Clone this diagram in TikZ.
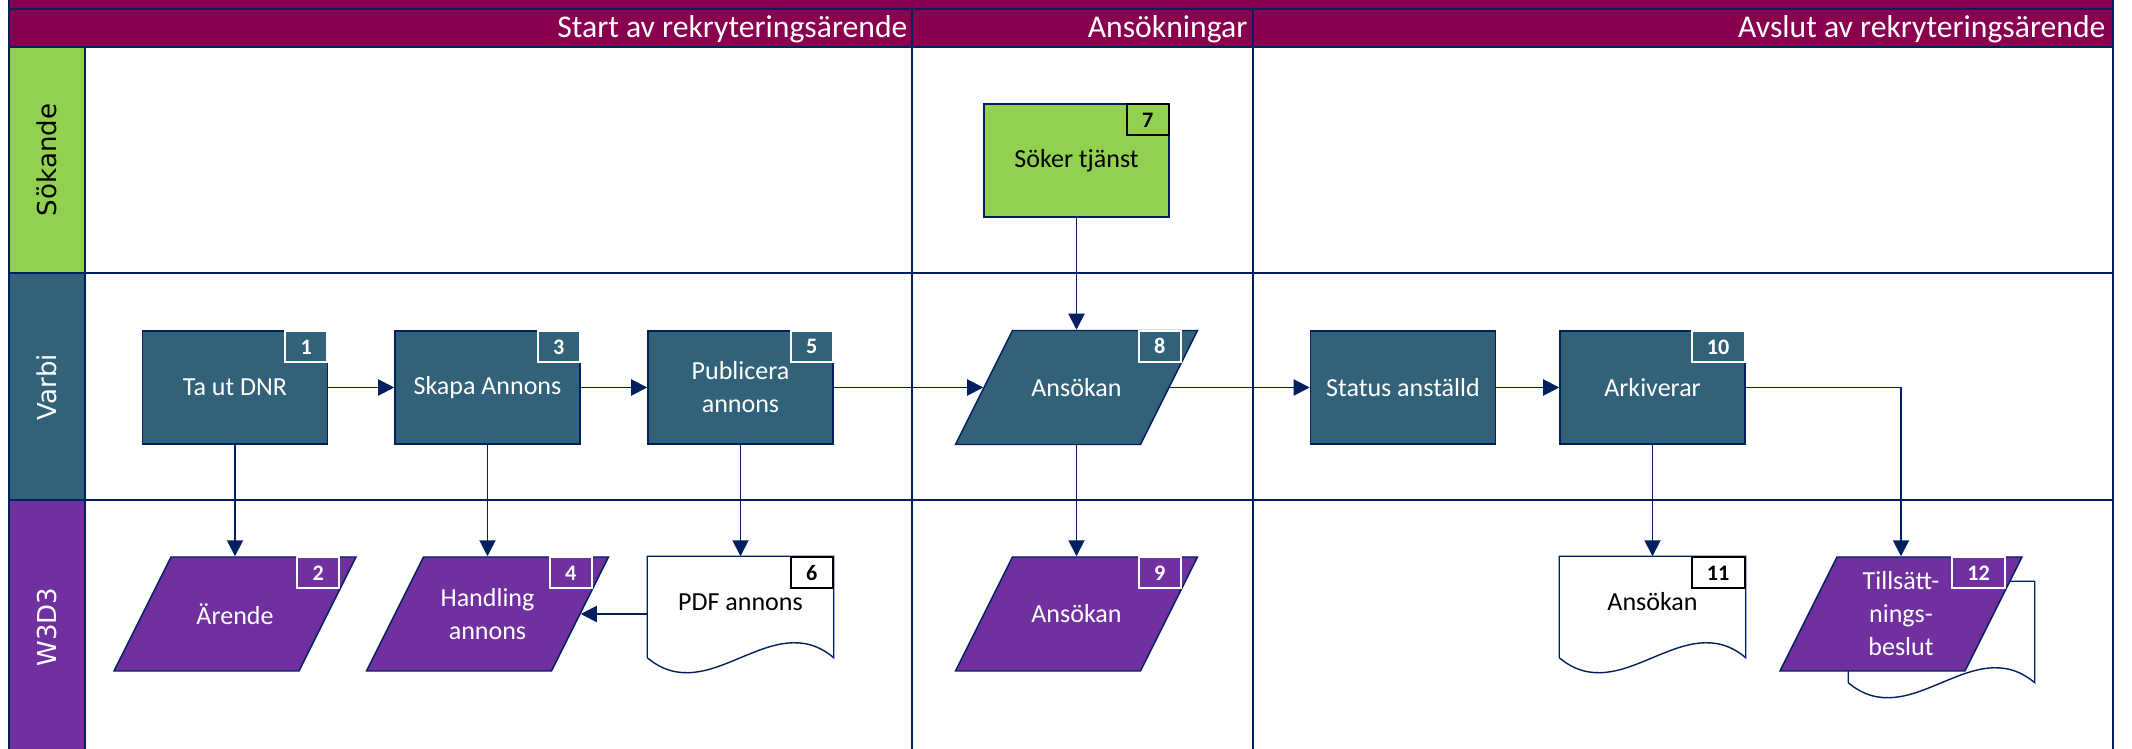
\documentclass[tikz,border=0pt]{standalone}
\usepackage{fontspec}
\setmainfont{Carlito}
\newfontfamily\lanefont{DejaVu Sans}
\usetikzlibrary{arrows.meta,calc}

\definecolor{hdr}{RGB}{137,0,79}
\definecolor{navy}{RGB}{0,32,96}
\definecolor{varbi}{RGB}{50,98,121}
\definecolor{w3d3}{RGB}{112,48,160}
\definecolor{sok}{RGB}{146,208,80}

% outline of a document shape round an empty node
\newcommand\docpath[1]{%
\draw[navy,line width=0.4pt] ($(#1.south west)+(0,-14)$) -- (#1.north west) -- (#1.north east) -- ($(#1.south east)+(0,-14)$)
  .. controls ($(#1.south east)+(-62,-66)$) and ($(#1.south west)+(62,38)$) .. ($(#1.south west)+(0,-14)$);}

% parallelogram: name, centre, fill, text
\newcommand\slantbox[4]{%
\filldraw[fill=#3,draw=navy,line width=0.4pt] ($#2+(-64,-57)$) -- ($#2+(121,-57)$) -- ($#2+(64,57)$) -- ($#2+(-121,57)$) -- cycle;
\node[box,fill=none,draw=none,minimum height=1.14cm] (#1) at #2 {#4};}

\begin{document}
\begin{tikzpicture}[x=0.01cm,y=-0.01cm,
lane/.style={draw=navy,line width=0.6pt},
box/.style={draw=navy,line width=0.4pt,fill=varbi,text=white,minimum width=1.85cm,minimum height=1.13cm,inner sep=0pt,align=center,font=\fontsize{7.4}{9.4}\selectfont},
doc/.style={box,fill=white,draw=none,minimum height=1.14cm},
txt/.style={text=black,inner sep=0pt,font=\fontsize{7.4}{9.4}\selectfont},
nr/.style={draw=white,line width=0.6pt,text=white,minimum width=0.42cm,minimum height=0.31cm,inner sep=0pt,anchor=north east,font=\fontsize{6.3}{6.3}\selectfont\bfseries},
hd/.style={text=white,inner sep=0pt,anchor=base east,font=\fontsize{9}{9}\selectfont},
ln/.style={rotate=90,inner sep=0pt,font=\lanefont\fontsize{7.4}{9}\selectfont},
flow/.style={draw=navy,line width=0.55pt,-{Triangle[length=0.16cm,width=0.16cm]}}
]
\useasboundingbox (0,0) rectangle (2132,749);

% lanes and phases
\fill[hdr] (9,0) rectangle (2113,47);
\fill[sok] (9,47) rectangle (85,273);
\fill[varbi] (9,273) rectangle (85,500);
\fill[w3d3] (9,500) rectangle (85,749);
\foreach \y in {9,47,273,500}
{
\draw[lane] (9,\y) -- (2113,\y);
}
\draw[lane] (9,0) -- (9,749) (85,47) -- (85,749) (2113,0) -- (2113,749);
\foreach \x in {912,1253}
{
\draw[lane,line width=0.45pt] (\x,9) -- (\x,749);
}

\node[hd] (h1) at (908,38) {Start av rekryteringsärende};
\node[hd] (h2) at (1248,38) {Ansökningar};
\node[hd] (h3) at (2106,38) {Avslut av rekryteringsärende};

\node[ln] (l1) at (47,160) {Sökande};
\node[ln,text=white] (l2) at (47,387) {Varbi};
\node[ln,text=white] (l3) at (47,627) {W3D3};

% Sökande
\node[box,fill=sok,text=black] (s7) at (1076.5,160.5) {Söker tjänst};
\node[nr,draw=black,text=black] (n7) at (s7.north east) {7};

% Varbi
\node[box] (b1) at (235,387.5) {Ta ut DNR};
\node[box] (b3) at (487.5,387.5) {Skapa Annons};
\node[box] (b5) at (740.5,387.5) {Publicera\\annons};
\slantbox{b8}{(1076.5,387.5)}{varbi}{Ansökan}
\node[box] (st) at (1403,387.5) {Status anställd};
\node[box] (b10) at (1652.5,387.5) {Arkiverar};
\node[nr] (n1) at (b1.north east) {1};
\node[nr] (n3) at (b3.north east) {3};
\node[nr] (n5) at (b5.north east) {5};
\node[nr] (n8) at ($(b8.north east)+(12,0)$) {8};
\node[nr,minimum width=0.53cm] (n10) at (b10.north east) {10};

% W3D3
\slantbox{p2}{(235,614)}{w3d3}{Ärende}
\slantbox{p4}{(487.5,614)}{w3d3}{Handling\\annons}
\node[doc] (d6) at (740.5,614) {};
\docpath{d6}
\node[txt] (t6) at ($(d6.center)+(0,-12)$) {PDF annons};
\slantbox{p9}{(1076.5,614)}{w3d3}{Ansökan}
\node[doc] (d11) at (1652.5,614) {};
\docpath{d11}
\node[txt] (t11) at ($(d11.center)+(0,-12)$) {Ansökan};
\node[doc] (d12) at (1941.5,639) {};
\docpath{d12}
\slantbox{p12}{(1901,614)}{w3d3}{Tillsätt-\\nings-\\beslut}
\node[nr] (n2) at ($(p2.north east)+(12,0)$) {2};
\node[nr] (n4) at ($(p4.north east)+(12,0)$) {4};
\node[nr,draw=black,text=black] (n6) at (d6.north east) {6};
\node[nr] (n9) at ($(p9.north east)+(12,0)$) {9};
\node[nr,draw=black,text=black,minimum width=0.53cm] (n11) at (d11.north east) {11};
\node[nr,minimum width=0.53cm] (n12) at ($(p12.north east)+(12,0)$) {12};

% connectors
\draw[flow] (b1) -- (b3);
\draw[flow] (b3) -- (b5);
\draw[flow] (b5) -- (b8);
\draw[flow] (b8) -- (st);
\draw[flow] (st) -- (b10);
\draw[flow] (s7) -- (b8);
\draw[flow] (b1) -- (p2);
\draw[flow] (b3) -- (p4);
\draw[flow] (b5) -- (d6);
\draw[flow] (d6) -- (p4);
\draw[flow] (b8) -- (p9);
\draw[flow] (b10) -- (d11);
\draw[flow] (b10) -| (p12);
\end{tikzpicture}
\end{document}
